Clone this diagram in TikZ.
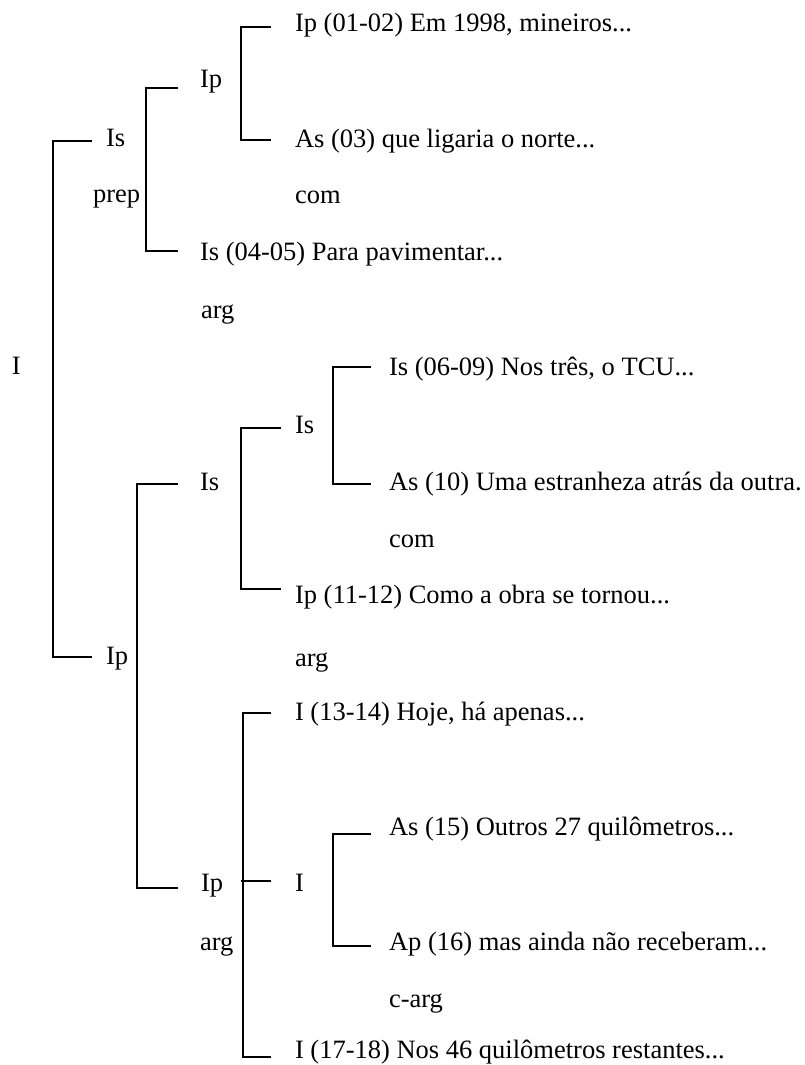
\documentclass[tikz,border=0pt]{standalone}
\usepackage{fontspec}
\setmainfont{Liberation Serif}
\begin{document}
\begin{tikzpicture}[x=1pt,y=-1pt,
  lbl/.style={anchor=base west,inner sep=0pt,outer sep=0pt,font=\fontsize{26.5}{30}\selectfont},
  br/.style={line width=1.8pt,line cap=butt,line join=miter}]
\useasboundingbox (0,0) rectangle (805,1065);
% labels
\node[lbl] (root) at (12,374) {I};
\node[lbl] (isA) at (106,146) {Is};
\node[lbl] (prep) at (93,202) {prep};
\node[lbl] (ipA) at (106,664) {Ip};
\node[lbl] (ipB) at (200,88) {Ip};
\node[lbl] (s0405) at (200,260) {Is (04-05) Para pavimentar...};
\node[lbl] (arg1) at (201,318) {arg};
\node[lbl] (s0102) at (295,32) {Ip (01-02) Em 1998, mineiros...};
\node[lbl] (s03) at (295,147) {As (03) que ligaria o norte...};
\node[lbl] (com1) at (295,203) {com};
\node[lbl] (isB) at (200,490) {Is};
\node[lbl] (isC) at (295,433) {Is};
\node[lbl] (s0609) at (389,375) {Is (06-09) Nos três, o TCU...};
\node[lbl] (s10) at (389,490) {As (10) Uma estranheza atrás da outra.};
\node[lbl] (com2) at (389,547) {com};
\node[lbl] (s1112) at (295,603) {Ip (11-12) Como a obra se tornou...};
\node[lbl] (arg2) at (295,666) {arg};
\node[lbl] (ipC) at (201,891) {Ip};
\node[lbl] (arg3) at (200,950) {arg};
\node[lbl] (s1314) at (295,720) {I (13-14) Hoje, há apenas...};
\node[lbl] (iD) at (295,891) {I};
\node[lbl] (s1718) at (295,1058) {I (17-18) Nos 46 quilômetros restantes...};
\node[lbl] (s15) at (389,835) {As (15) Outros 27 quilômetros...};
\node[lbl] (s16) at (389,950) {Ap (16) mas ainda não receberam...};
\node[lbl] (carg) at (389,1007) {c-arg};
% bracket end points
\coordinate (rootT) at (92,141);   \coordinate (rootB) at (92,657);
\coordinate (isAT) at (178,88);    \coordinate (isAB) at (178,251);
\coordinate (ipBT) at (271,27);    \coordinate (ipBB) at (271,140);
\coordinate (ipAT) at (178,484);   \coordinate (ipAB) at (178,888);
\coordinate (isBT) at (281,428);   \coordinate (isBB) at (281,589);
\coordinate (isCT) at (371,367);   \coordinate (isCB) at (371,484);
\coordinate (ipCT) at (271,713);   \coordinate (ipCM) at (271,881);   \coordinate (ipCB) at (271,1057);
\coordinate (iDT) at (371,834);    \coordinate (iDB) at (371,946);
% brackets
\draw[br] (rootT) -- ++(-39,0) |- (rootB);
\draw[br] (isAT) -- ++(-32,0) |- (isAB);
\draw[br] (ipBT) -- ++(-30,0) |- (ipBB);
\draw[br] (ipAT) -- ++(-41,0) |- (ipAB);
\draw[br] (isBT) -- ++(-40,0) |- (isBB);
\draw[br] (isCT) -- ++(-38,0) |- (isCB);
\draw[br] (ipCT) -- ++(-28,0) |- (ipCB);
\draw[br] (ipCM) -- ++(-30,0);
\draw[br] (iDT) -- ++(-38,0) |- (iDB);
\end{tikzpicture}
\end{document}
